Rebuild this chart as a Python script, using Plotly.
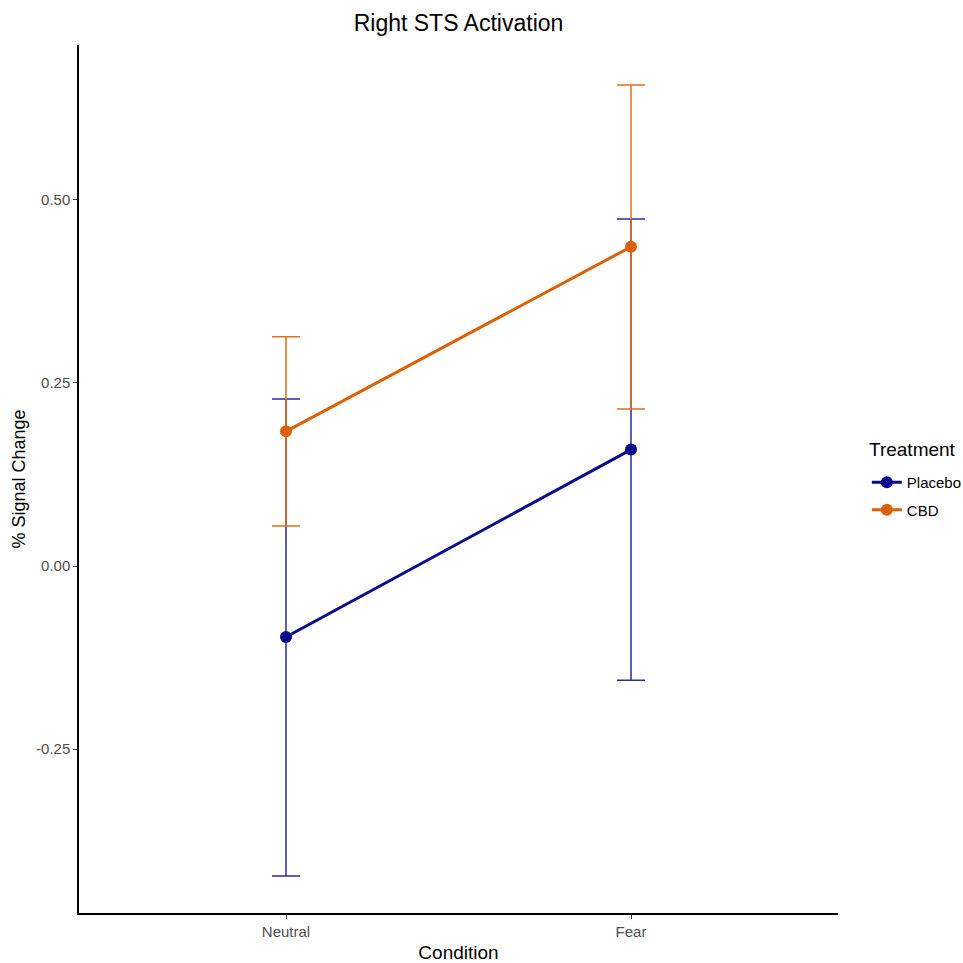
import plotly.graph_objects as go

conditions = ["Neutral", "Fear"]
placebo_mean = [-0.097, 0.159]
placebo_upper = [0.228, 0.474]
placebo_lower = [-0.4235, -0.156]
cbd_mean = [0.184, 0.436]
cbd_upper = [0.313, 0.657]
cbd_lower = [0.0546, 0.2145]

x_pos = [1, 2]

def err(mean, up, lo):
    return [u - m for u, m in zip(up, mean)], [m - l for m, l in zip(mean, lo)]

fig = go.Figure()
series = [
    ("Placebo", placebo_mean, placebo_upper, placebo_lower, "#0A0A8C", "#2B2BA0"),
    ("CBD", cbd_mean, cbd_upper, cbd_lower, "#DB6106", "#E0701A"),
]
for name, m, up, lo, col, ecol in series:
    plus, minus = err(m, up, lo)
    fig.add_trace(go.Scatter(
        x=x_pos, y=m, name=name, mode="lines+markers", legendgroup=name,
        line=dict(color=col, width=3),
        marker=dict(color=col, size=12),
        error_y=dict(type="data", symmetric=False, array=plus, arrayminus=minus,
                     color=ecol, thickness=1.5, width=14),
    ))

fig.add_annotation(text="Treatment", xref="paper", yref="paper",
                   x=(867 - 79) / 759, y=(913 - 449) / 868, xanchor="left", yanchor="middle",
                   showarrow=False, font=dict(size=19, color="black"))

fig.update_layout(
    width=963, height=963,
    margin=dict(l=79, r=125, t=45, b=50, autoexpand=False),
    plot_bgcolor="white", paper_bgcolor="white",
    font=dict(family="Liberation Sans, Arial, sans-serif", color="black"),
    title=dict(text="Right STS Activation", x=(79 + 838) / 2 / 963, xanchor="center",
               y=1 - 23 / 963, yanchor="middle", font=dict(size=23, color="black")),
    legend=dict(font=dict(size=15),
                x=1.038, xanchor="left", y=(913 - 466) / 868, yanchor="top",
                itemwidth=30, tracegroupgap=5),
    xaxis=dict(range=[0.4, 2.6], tickvals=x_pos, ticktext=conditions, automargin=False,
               showline=True, linecolor="black", linewidth=1.5, showgrid=False, zeroline=False,
               ticks="outside", ticklen=4, tickcolor="#333333",
               tickfont=dict(size=15, color="#4d4d4d"),
               title=dict(text="Condition", font=dict(size=19), standoff=8)),
    yaxis=dict(range=[-0.474, 0.7117], tickvals=[-0.25, 0, 0.25, 0.5], automargin=False,
               ticktext=["-0.25", "0.00", "0.25", "0.50"],
               showline=True, linecolor="black", linewidth=1.5, showgrid=False, zeroline=False,
               ticks="outside", ticklen=4, tickcolor="#333333",
               tickfont=dict(size=15, color="#4d4d4d"),
               title=dict(text="% Signal Change", font=dict(size=18), standoff=6)),
)

fig.write_html("out.html")
